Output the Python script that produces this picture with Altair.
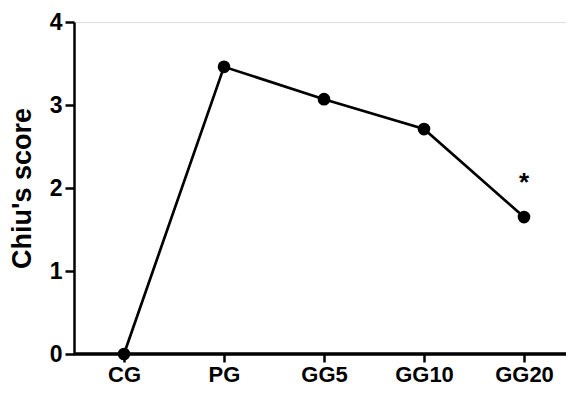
import altair as alt
import pandas as pd

groups = ["CG", "PG", "GG5", "GG10", "GG20"]
scores = [0.0, 3.46, 3.07, 2.71, 1.65]
marks = ["", "", "", "", "*"]

df = pd.DataFrame({"group": groups, "score": scores, "mark": marks})

W, H = 492, 332

x = alt.X("group:N", sort=groups, title=None,
          scale=alt.Scale(type="point", range=[50, 450], padding=0),
          axis=alt.Axis(labelAngle=0, labelAlign="center", labelBaseline="top",
                        labelFontSize=22, labelFontWeight="bold",
                        labelColor="black", domain=False, ticks=True,
                        tickColor="black", tickWidth=2.5, tickSize=8,
                        tickOpacity=1, labelPadding=2,
                        labelFont="Liberation Sans"))
y = alt.Y("score:Q", title="Chiu's score",
          scale=alt.Scale(domain=[0, 4], nice=False),
          axis=alt.Axis(values=[0, 1, 2, 3, 4], format="d", labelFontSize=23,
                        labelFontWeight="bold", labelColor="black", domainColor="black",
                        domainWidth=2.5, tickColor="black", tickWidth=2.5, tickSize=9,
                        grid=False, titleFontSize=27, titleFontWeight="bold",
                        titleColor="black", titlePadding=13, labelPadding=3,
                        labelFont="Liberation Sans", titleFont="Liberation Sans"))

base = alt.Chart(df).encode(x=x, y=y)
baseline = alt.Chart(df).mark_rule(color="black", strokeWidth=2.5).encode(
    x=alt.value(0), x2=alt.value(W), y=alt.value(H))
line = base.mark_line(color="black", strokeWidth=2.7)
pts = base.mark_point(filled=True, color="black", size=160, opacity=1)
txt = base.mark_text(dy=-34, fontSize=26, fontWeight="bold", color="black",
                     font="Liberation Sans").encode(text="mark:N")

chart = (baseline + line + pts + txt).properties(
    width=W, height=H,
    autosize=alt.AutoSizeParams(type="none"),
    padding={"left": 66, "top": 14, "right": 0, "bottom": 32},
).configure_view(stroke=None).configure(background="white")

chart.save("out.html", embed_options={"renderer": "svg", "actions": False})
